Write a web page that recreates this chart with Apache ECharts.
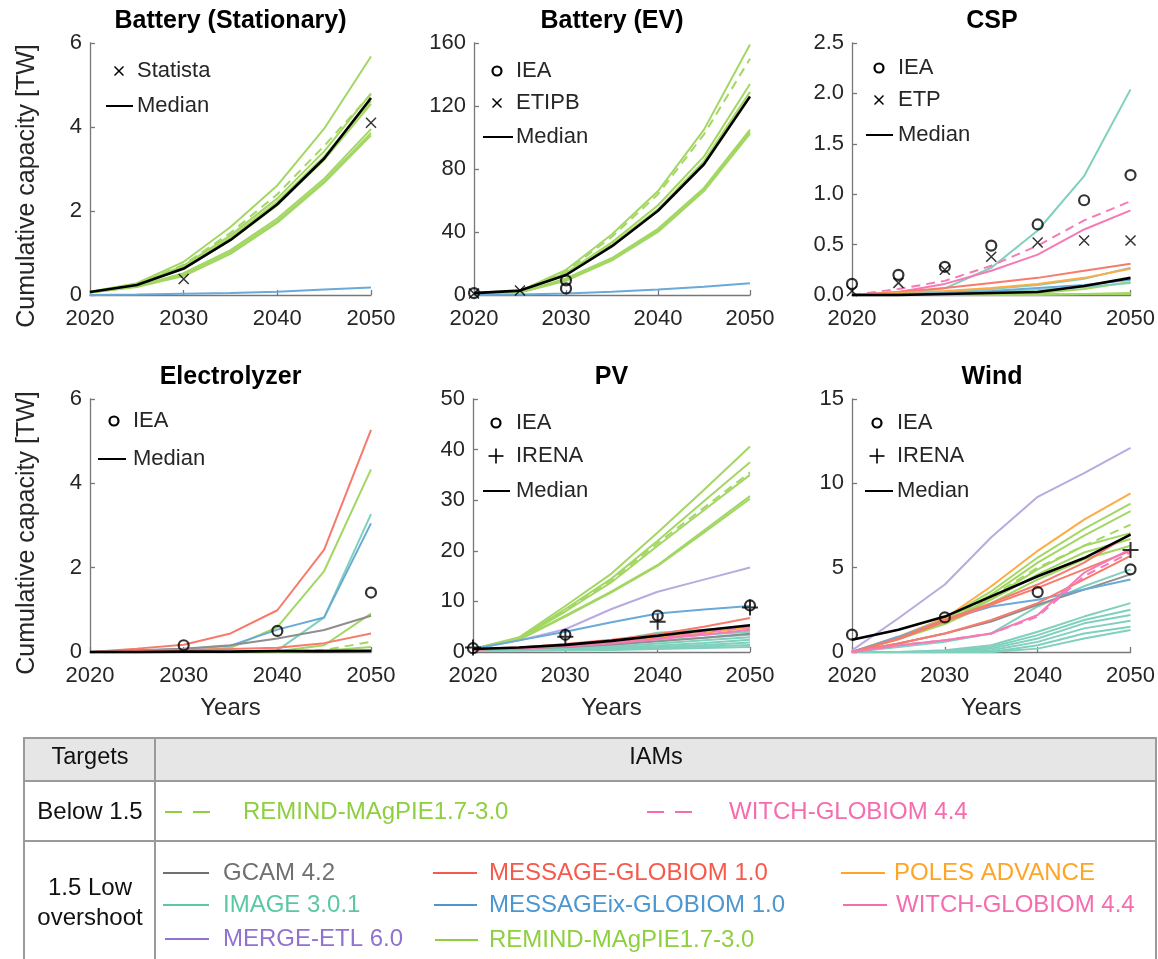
<!DOCTYPE html>
<html><head><meta charset="utf-8">
<script src="https://cdn.jsdelivr.net/npm/echarts@6/dist/echarts.min.js"></script>
<style>html,body{margin:0;padding:0;background:#fff}#c{width:1158px;height:959px}</style>
</head><body><div id="c"></div>
<script>
// ---------------- DATA ----------------
const YEARS = [2020, 2025, 2030, 2035, 2040, 2045, 2050];
const MODEL_NAMES = {
  GCAM: 'GCAM 4.2', IMAGE: 'IMAGE 3.0.1', MERGE: 'MERGE-ETL 6.0',
  MSG: 'MESSAGE-GLOBIOM 1.0', MSGIX: 'MESSAGEix-GLOBIOM 1.0',
  REMIND: 'REMIND-MAgPIE1.7-3.0', POLES: 'POLES ADVANCE', WITCH: 'WITCH-GLOBIOM 4.4'
};
const PANEL_TITLES = ['Battery (Stationary)', 'Battery (EV)', 'CSP', 'Electrolyzer', 'PV', 'Wind'];
const Y_MAX = [6, 160, 2.5, 6, 50, 15];
const Y_STEP = [2, 40, 0.5, 2, 10, 5];
const Y_NAME = 'Cumulative capacity [TW]';
const X_NAME = 'Years';

// pathways: [model, target ('below' = Below 1.5, 'low' = 1.5 Low overshoot), values per YEARS]
const stationaryPaths = [
  ['REMIND', 'low',   [0.08, 0.28, 0.79, 1.62, 2.61, 3.96, 5.68]],
  ['REMIND', 'low',   [0.07, 0.26, 0.70, 1.42, 2.30, 3.42, 4.80]],
  ['REMIND', 'low',   [0.07, 0.25, 0.66, 1.36, 2.22, 3.30, 4.62]],
  ['REMIND', 'low',   [0.07, 0.24, 0.62, 1.30, 2.14, 3.22, 4.55]],
  ['REMIND', 'low',   [0.06, 0.21, 0.52, 1.07, 1.82, 2.77, 3.95]],
  ['REMIND', 'low',   [0.06, 0.20, 0.48, 1.02, 1.76, 2.71, 3.86]],
  ['REMIND', 'low',   [0.06, 0.19, 0.45, 0.98, 1.72, 2.67, 3.80]],
  ['REMIND', 'below', [0.07, 0.26, 0.72, 1.48, 2.40, 3.55, 4.78]],
  ['MSGIX',  'low',   [0.00, 0.01, 0.03, 0.05, 0.08, 0.13, 0.18]]
];
const stationaryMedian = [0.07, 0.24, 0.63, 1.31, 2.16, 3.25, 4.69];
const stationaryStatista = [[2030, 0.38], [2050, 4.1]];

const evPaths = [
  ['REMIND', 'low',   [1.5, 2.6, 16.0, 38.6, 66.0, 105, 159]],
  ['REMIND', 'below', [1.5, 2.5, 15.0, 37.0, 64.0, 102, 150]],
  ['REMIND', 'low',   [1.5, 2.4, 14.0, 33.5, 57.0, 88, 134]],
  ['REMIND', 'low',   [1.5, 2.3, 13.0, 32.0, 54.5, 85, 129]],
  ['REMIND', 'low',   [1.5, 1.8, 10.5, 23.5, 42.0, 68, 105]],
  ['REMIND', 'low',   [1.5, 1.7, 9.5, 22.5, 41.0, 67, 103.5]],
  ['REMIND', 'low',   [1.5, 1.6, 9.0, 22.0, 40.0, 66, 102.5]],
  ['MSGIX',  'low',   [0.0, 0.3, 1.0, 2.0, 3.5, 5.2, 7.5]]
];
const evMedian = [1.2, 2.8, 12.7, 31.0, 53.5, 83.0, 126.0];
const evIEA = [[2020, 1.2], [2030, 9.3], [2030, 4.2]];
const evETIPB = [[2020, 1.0], [2025, 2.8]];

const cspPaths = [
  ['REMIND', 'low',   [0, 0, 0, 0.01, 0.02, 0.06, 0.13]],
  ['REMIND', 'low',   [0, 0, 0, 0, 0.01, 0.01, 0.01]],
  ['REMIND', 'low',   [0, 0, 0, 0, 0, 0.01, 0.02]],
  ['IMAGE',  'low',   [0, 0.01, 0.066, 0.27, 0.64, 1.18, 2.04]],
  ['IMAGE',  'low',   [0, 0.01, 0.03, 0.06, 0.10, 0.16, 0.27]],
  ['IMAGE',  'low',   [0, 0, 0.01, 0.03, 0.05, 0.08, 0.12]],
  ['WITCH',  'below', [0, 0.06, 0.14, 0.29, 0.49, 0.74, 0.93]],
  ['WITCH',  'low',   [0, 0.03, 0.11, 0.24, 0.40, 0.65, 0.84]],
  ['MSG',    'low',   [0, 0.03, 0.07, 0.12, 0.17, 0.24, 0.31]],
  ['POLES',  'low',   [0, 0.02, 0.04, 0.07, 0.11, 0.17, 0.26]],
  ['MSGIX',  'low',   [0, 0.01, 0.02, 0.04, 0.07, 0.10, 0.15]]
];
const cspMedian = [0, 0, 0.01, 0.02, 0.03, 0.09, 0.17];
const cspIEA = [[2020, 0.11], [2025, 0.20], [2030, 0.28], [2035, 0.49], [2040, 0.70], [2045, 0.94], [2050, 1.19]];
const cspETP = [[2020, 0.04], [2025, 0.12], [2030, 0.25], [2035, 0.38], [2040, 0.52], [2045, 0.54], [2050, 0.54]];

const elecPaths = [
  ['REMIND', 'low',   [0, 0, 0.02, 0.10, 0.59, 1.92, 4.33]],
  ['REMIND', 'low',   [0, 0, 0, 0, 0.02, 0.16, 0.91]],
  ['REMIND', 'below', [0, 0, 0, 0, 0.01, 0.05, 0.24]],
  ['REMIND', 'low',   [0, 0, 0, 0, 0, 0.03, 0.12]],
  ['MSG',    'low',   [0, 0.08, 0.17, 0.44, 0.99, 2.43, 5.27]],
  ['IMAGE',  'low',   [0, 0, 0, 0, 0.04, 0.82, 3.27]],
  ['MSGIX',  'low',   [0, 0.03, 0.07, 0.15, 0.53, 0.82, 3.05]],
  ['GCAM',   'low',   [0, 0.04, 0.08, 0.16, 0.32, 0.52, 0.86]],
  ['MSG',    'low',   [0, 0.03, 0.05, 0.07, 0.10, 0.21, 0.44]]
];
const elecMedian = [0, 0, 0.01, 0.01, 0.02, 0.02, 0.03];
const elecIEA = [[2030, 0.16], [2040, 0.50], [2050, 1.41]];

const pvPaths = [
  ['REMIND', 'low',   [0.6, 2.9, 9.1, 15.5, 23.6, 32.0, 40.6]],
  ['REMIND', 'low',   [0.6, 2.7, 8.5, 14.5, 22.0, 29.8, 37.5]],
  ['REMIND', 'low',   [0.6, 2.6, 8.0, 13.8, 21.0, 28.0, 35.0]],
  ['REMIND', 'low',   [0.6, 2.5, 7.2, 12.0, 17.2, 24.0, 30.8]],
  ['REMIND', 'low',   [0.6, 2.4, 7.0, 11.8, 17.0, 23.6, 30.3]],
  ['REMIND', 'below', [0.6, 2.7, 8.3, 14.2, 21.5, 28.5, 35.5]],
  ['IMAGE',  'low',   [0.4, 0.8, 1.3, 2.2, 3.8, 4.4, 5.0]],
  ['IMAGE',  'low',   [0.4, 0.7, 1.1, 1.8, 2.8, 3.4, 4.0]],
  ['IMAGE',  'low',   [0.4, 0.6, 0.9, 1.4, 2.2, 2.8, 3.4]],
  ['IMAGE',  'low',   [0.4, 0.5, 0.7, 1.1, 1.7, 2.3, 2.9]],
  ['IMAGE',  'low',   [0.3, 0.4, 0.6, 0.9, 1.3, 1.8, 2.4]],
  ['IMAGE',  'low',   [0.3, 0.4, 0.5, 0.7, 1.0, 1.4, 1.9]],
  ['IMAGE',  'low',   [0.3, 0.3, 0.4, 0.5, 0.8, 1.1, 1.4]],
  ['IMAGE',  'low',   [0.3, 0.3, 0.35, 0.4, 0.6, 0.8, 1.0]],
  ['GCAM',   'low',   [0.5, 0.7, 1.0, 1.5, 2.1, 2.8, 3.6]],
  ['MERGE',  'low',   [0.6, 2.3, 4.5, 8.5, 11.9, 14.3, 16.7]],
  ['MSGIX',  'low',   [0.6, 2.3, 4.0, 5.9, 7.6, 8.4, 9.1]],
  ['MSG',    'low',   [0.5, 0.9, 1.6, 2.4, 3.5, 5.0, 6.7]],
  ['MSG',    'low',   [0.5, 0.8, 1.3, 2.0, 2.8, 3.8, 5.0]],
  ['POLES',  'low',   [0.5, 0.8, 1.3, 2.0, 3.0, 3.9, 4.8]],
  ['WITCH',  'below', [0.5, 0.8, 1.2, 1.9, 2.8, 3.9, 4.9]],
  ['WITCH',  'low',   [0.5, 0.7, 1.1, 1.7, 2.5, 3.4, 4.4]]
];
const pvMedian = [0.6, 0.9, 1.4, 2.2, 3.2, 4.3, 5.3];
const pvIEA = [[2020, 0.75], [2030, 3.4], [2040, 7.2], [2050, 9.2]];
const pvIRENA = [[2020, 0.9], [2030, 3.0], [2040, 6.0], [2050, 8.8]];

const windPaths = [
  ['REMIND', 'low',   [0.0, 0.9, 2.0, 3.6, 5.6, 7.3, 8.8]],
  ['REMIND', 'low',   [0.0, 0.85, 1.9, 3.4, 5.3, 6.9, 8.35]],
  ['REMIND', 'low',   [0.0, 0.8, 1.8, 3.2, 4.9, 6.3, 7.05]],
  ['REMIND', 'low',   [0.0, 0.8, 1.75, 3.1, 4.6, 5.9, 6.7]],
  ['REMIND', 'low',   [0.0, 0.75, 1.65, 2.9, 4.3, 5.5, 6.3]],
  ['REMIND', 'below', [0.0, 0.8, 1.85, 3.3, 5.0, 6.3, 7.55]],
  ['IMAGE',  'low',   [0.0, 0.3, 0.6, 1.1, 2.7, 3.9, 4.9]],
  ['IMAGE',  'low',   [0, 0, 0.1, 0.4, 1.2, 2.1, 2.9]],
  ['IMAGE',  'low',   [0, 0, 0.05, 0.3, 1.0, 1.9, 2.5]],
  ['IMAGE',  'low',   [0, 0, 0, 0.2, 0.8, 1.7, 2.2]],
  ['IMAGE',  'low',   [0, 0, 0, 0.1, 0.6, 1.4, 1.85]],
  ['IMAGE',  'low',   [0, 0, 0, 0, 0.4, 1.1, 1.5]],
  ['IMAGE',  'low',   [0, 0, 0, 0, 0.2, 0.8, 1.3]],
  ['MERGE',  'low',   [0.1, 2.0, 4.0, 6.8, 9.2, 10.6, 12.1]],
  ['POLES',  'low',   [0.0, 0.9, 2.0, 3.9, 6.0, 7.85, 9.4]],
  ['GCAM',   'low',   [0.0, 0.5, 1.1, 1.8, 2.8, 3.7, 4.6]],
  ['MSGIX',  'low',   [0.0, 0.9, 1.9, 2.7, 3.1, 3.7, 4.3]],
  ['MSG',    'low',   [0.0, 0.8, 1.9, 2.9, 4.0, 5.3, 7.0]],
  ['MSG',    'low',   [0.0, 0.75, 1.8, 2.8, 3.8, 4.9, 6.0]],
  ['MSG',    'low',   [0.0, 0.5, 1.1, 1.9, 2.9, 4.3, 5.7]],
  ['WITCH',  'below', [0.0, 0.4, 0.7, 1.1, 2.1, 4.5, 5.9]],
  ['WITCH',  'low',   [0.0, 0.4, 0.7, 1.1, 2.2, 4.7, 6.1]]
];
const windMedian = [0.73, 1.32, 2.1, 3.3, 4.49, 5.57, 6.96];
const windIEA = [[2020, 1.03], [2030, 2.05], [2040, 3.55], [2050, 4.9]];
const windIRENA = [[2050, 6.05]];

// ---------------- STYLE ----------------
const LINE_COLORS = { GCAM: '#8e8e8e', IMAGE: '#7fd0bd', MERGE: '#b9aadf', MSG: '#f77a6c', MSGIX: '#6aaad8', REMIND: '#a3d763', POLES: '#fdac45', WITCH: '#f57ab6' };
const TEXT_COLORS = { GCAM: '#707070', IMAGE: '#5cc7a3', MERGE: '#9272d0', MSG: '#f65a4d', MSGIX: '#4c97cf', REMIND: '#8ecf3f', POLES: '#ffa526', WITCH: '#f56caf' };
const FONT = "'Liberation Sans', Arial, Helvetica, sans-serif";
const INK = '#262626';
const AXIS = '#777777';
const GRIDS = [
  { left: 90, top: 43, width: 281, height: 252 },
  { left: 474, top: 43, width: 276, height: 252 },
  { left: 852, top: 43, width: 280, height: 252 },
  { left: 90, top: 399, width: 281, height: 253 },
  { left: 473, top: 399, width: 277, height: 253 },
  { left: 852, top: 399, width: 280, height: 253 }
];
const SYM = {
  circle: { symbol: 'circle', symbolSize: 10, itemStyle: { color: 'rgba(0,0,0,0)', borderColor: '#000', borderWidth: 2.2 } },
  cross: { symbol: 'path://M0,0L10,10M10,0L0,10', symbolSize: 10, itemStyle: { color: 'rgba(0,0,0,0)', borderColor: '#000', borderWidth: 1.5 } },
  plus: { symbol: 'path://M5,0L5,10M0,5L10,5', symbolSize: 16, itemStyle: { color: 'rgba(0,0,0,0)', borderColor: '#000', borderWidth: 2 } }
};

const panels = [
  { paths: stationaryPaths, median: stationaryMedian, marks: [['Statista', 'cross', stationaryStatista]] },
  { paths: evPaths, median: evMedian, marks: [['IEA', 'circle', evIEA], ['ETIPB', 'cross', evETIPB]] },
  { paths: cspPaths, median: cspMedian, marks: [['IEA', 'circle', cspIEA], ['ETP', 'cross', cspETP]] },
  { paths: elecPaths, median: elecMedian, marks: [['IEA', 'circle', elecIEA]] },
  { paths: pvPaths, median: pvMedian, marks: [['IEA', 'circle', pvIEA], ['IRENA', 'plus', pvIRENA]] },
  { paths: windPaths, median: windMedian, marks: [['IEA', 'circle', windIEA], ['IRENA', 'plus', windIRENA]] }
];

// ---------------- BUILD ----------------
function gText(x, y, text, fill, size, align, weight, rot) {
  return { type: 'text', x: x, y: y, rotation: rot || 0, silent: true, style: { text: text, fill: fill || INK,
    font: (weight || 'normal') + ' ' + (size || 22) + 'px ' + FONT,
    textAlign: align || 'left', textVerticalAlign: 'middle', align: align || 'left', verticalAlign: 'middle' } };
}
function gLine(x1, y1, x2, y2, color, w, dash) {
  return { type: 'line', silent: true, shape: { x1: x1, y1: y1, x2: x2, y2: y2 },
    style: { stroke: color, lineWidth: w, lineDash: dash || null } };
}
function gCircle(cx, cy) {
  return { type: 'circle', silent: true, shape: { cx: cx, cy: cy, r: 4.5 }, style: { fill: 'none', stroke: '#000', lineWidth: 2.2 } };
}
function gCross(cx, cy, s) {
  return [gLine(cx - s, cy - s, cx + s, cy + s, '#000', 1.5), gLine(cx - s, cy + s, cx + s, cy - s, '#000', 1.5)];
}
function gPlus(cx, cy, s) {
  return [gLine(cx - s, cy, cx + s, cy, '#000', 1.6), gLine(cx, cy - s, cx, cy + s, '#000', 1.6)];
}

const grid = [], xAxis = [], yAxis = [], title = [], series = [], graphic = [];
panels.forEach((p, i) => {
  const g = GRIDS[i];
  grid.push(Object.assign({ containLabel: false }, g));
  const bottomRow = i >= 3;
  xAxis.push({
    type: 'value', gridIndex: i, min: 2020, max: 2050, interval: 10,
    axisLine: { show: true, onZero: false, lineStyle: { color: AXIS, width: 1.3 } },
    axisTick: { show: true, inside: true, length: 5, lineStyle: { color: AXIS, width: 1.3 } },
    axisLabel: { color: INK, fontSize: 22, fontFamily: FONT, margin: 13, formatter: (v) => String(v) },
    splitLine: { show: false },
    name: bottomRow ? X_NAME : '', nameLocation: 'middle', nameGap: 44,
    nameTextStyle: { color: INK, fontSize: 24, fontFamily: FONT }
  });
  yAxis.push({
    type: 'value', gridIndex: i, min: 0, max: Y_MAX[i], interval: Y_STEP[i],
    axisLine: { show: true, lineStyle: { color: AXIS, width: 1.3 } },
    axisTick: { show: true, inside: true, length: 5, lineStyle: { color: AXIS, width: 1.3 } },
    axisLabel: { color: INK, fontSize: 22, fontFamily: FONT, margin: 8,
      formatter: i === 2 ? (v) => v.toFixed(1) : (v) => String(v) },
    splitLine: { show: false }
  });
  title.push({
    text: PANEL_TITLES[i], left: g.left + g.width / 2, top: g.top - 34, textAlign: 'center', padding: 0,
    textStyle: { color: '#000', fontSize: 25, fontWeight: 'bold', fontFamily: FONT }
  });
  p.paths.forEach(([m, t, v]) => {
    series.push({
      type: 'line', name: MODEL_NAMES[m], xAxisIndex: i, yAxisIndex: i,
      data: YEARS.map((y, k) => [y, v[k]]), symbol: 'none', silent: true, clip: false,
      z: m === 'REMIND' ? 2 : 3,
      lineStyle: { color: LINE_COLORS[m], width: 2, type: t === 'below' ? [9, 6] : 'solid' }
    });
  });
  series.push({
    type: 'line', name: 'Median', xAxisIndex: i, yAxisIndex: i,
    data: YEARS.map((y, k) => [y, p.median[k]]), symbol: 'none', silent: true, clip: false, z: 5,
    lineStyle: { color: '#000', width: 2.6 }
  });
  p.marks.forEach(([name, kind, pts]) => {
    series.push(Object.assign({
      type: 'scatter', name: name, xAxisIndex: i, yAxisIndex: i, data: pts, silent: true, clip: false, z: 6
    }, JSON.parse(JSON.stringify(SYM[kind]))));
  });
});

// y-axis titles (rotated)
graphic.push(gText(27, 186, Y_NAME, INK, 25, 'center', 'normal', Math.PI / 2));
graphic.push(gText(27, 533, Y_NAME, INK, 25, 'center', 'normal', Math.PI / 2));

// ---- in-panel legends (graphic) ----
const legendSpecs = [
  { ix: 119, tx: 137, ml: [106, 133], rows: [['cross', 'Statista', 71]], my: 106 },
  { ix: 497, tx: 516, ml: [483, 513], rows: [['circle', 'IEA', 71], ['cross', 'ETIPB', 103]], my: 137 },
  { ix: 879, tx: 898, ml: [866, 893], rows: [['circle', 'IEA', 68], ['cross', 'ETP', 100]], my: 135 },
  { ix: 114, tx: 133, ml: [98, 126], rows: [['circle', 'IEA', 421]], my: 459 },
  { ix: 496, tx: 516, ml: [483, 510], rows: [['circle', 'IEA', 423], ['plus', 'IRENA', 456]], my: 491 },
  { ix: 877, tx: 897, ml: [865, 893], rows: [['circle', 'IEA', 423], ['plus', 'IRENA', 456]], my: 491 }
];
legendSpecs.forEach((L) => {
  L.rows.forEach(([kind, label, y]) => {
    if (kind === 'circle') graphic.push(gCircle(L.ix, y));
    else if (kind === 'cross') graphic.push(...gCross(L.ix, y, 4.5));
    else graphic.push(...gPlus(L.ix, y, 7.5));
    graphic.push(gText(L.tx, y, label));
  });
  graphic.push(gLine(L.ml[0], L.my, L.ml[1], L.my, '#000', 2));
  graphic.push(gText(L.tx, L.my, 'Median'));
});

// ---- bottom table legend ----
const TBL = { l: 24, r: 1156, t: 738, h1: 781, h2: 841, b: 990, c: 155 };
graphic.push({ type: 'rect', silent: true, shape: { x: TBL.l, y: TBL.t, width: TBL.r - TBL.l, height: TBL.h1 - TBL.t }, style: { fill: '#e6e6e6' } });
graphic.push({ type: 'rect', silent: true, shape: { x: TBL.l, y: TBL.t, width: TBL.r - TBL.l, height: TBL.b - TBL.t }, style: { fill: 'none', stroke: '#9a9a9a', lineWidth: 2 } });
graphic.push(gLine(TBL.l, TBL.h1, TBL.r, TBL.h1, '#9a9a9a', 2));
graphic.push(gLine(TBL.l, TBL.h2, TBL.r, TBL.h2, '#9a9a9a', 2));
graphic.push(gLine(TBL.c, TBL.t, TBL.c, TBL.b, '#9a9a9a', 2));
graphic.push(gText(90, 758, 'Targets', '#111', 23.5, 'center'));
graphic.push(gText(656, 758, 'IAMs', '#111', 23.5, 'center'));
graphic.push(gText(90, 812, 'Below 1.5', '#111', 24, 'center'));
graphic.push(gText(90, 888, '1.5 Low', '#111', 24, 'center'));
graphic.push(gText(90, 918, 'overshoot', '#111', 24, 'center'));

const tableEntries = [
  ['REMIND', 'below', 165, 215, 243, 812],
  ['WITCH', 'below', 647, 692, 729, 812],
  ['GCAM', 'low', 163, 209, 223, 873],
  ['IMAGE', 'low', 163, 209, 223, 905],
  ['MERGE', 'low', 165, 209, 223, 939],
  ['MSG', 'low', 433, 477, 489, 873],
  ['MSGIX', 'low', 434, 477, 489, 905],
  ['REMIND', 'low', 435, 478, 489, 940],
  ['POLES', 'low', 841, 885, 894, 873],
  ['WITCH', 'low', 843, 887, 896, 905]
];
tableEntries.forEach(([m, t, x1, x2, tx, y]) => {
  graphic.push(gLine(x1, y, x2, y, TEXT_COLORS[m], 2, t === 'below' ? [17, 11] : null));
  graphic.push(gText(tx, y, MODEL_NAMES[m], TEXT_COLORS[m], 24, 'left'));
});

const chart = echarts.init(document.getElementById('c'), null, { renderer: 'canvas' });
chart.setOption({
  backgroundColor: '#ffffff',
  animation: false,
  textStyle: { fontFamily: FONT },
  title: title, grid: grid, xAxis: xAxis, yAxis: yAxis, series: series, graphic: graphic
});
</script></body></html>
